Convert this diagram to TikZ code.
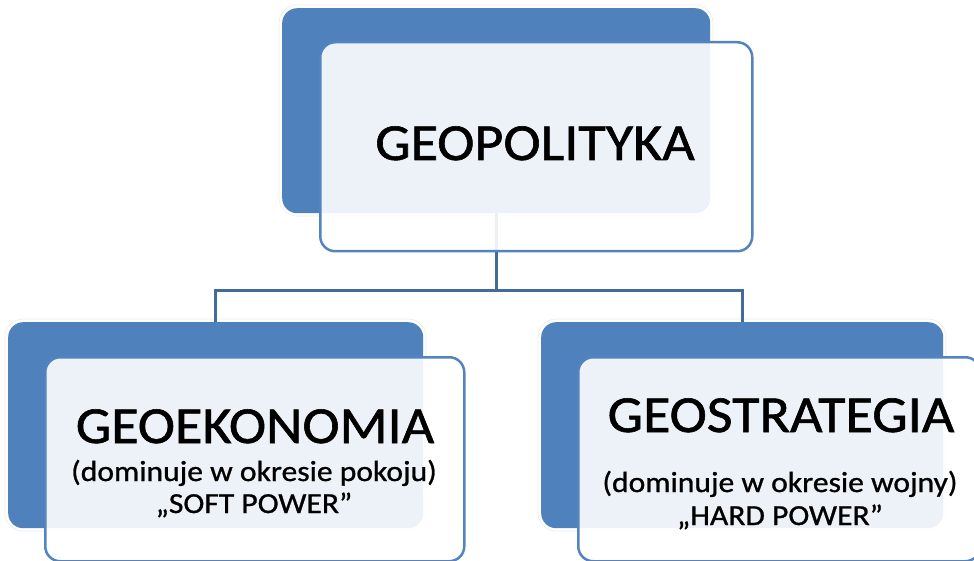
\documentclass[tikz,border=0pt]{standalone}
\usepackage{fontspec}
\setmainfont{Carlito}
\newfontfamily\bigfont{Carlito}[FakeStretch=1.08,FakeBold=1.1]
\newfontfamily\smallfont{Carlito}[FakeStretch=1.09,FakeBold=0.9]
\usetikzlibrary{calc}
\definecolor{backblue}{RGB}{79,129,189}
\definecolor{edgeblue}{RGB}{84,132,192}
\definecolor{connblue}{RGB}{65,106,157}
\begin{document}
\begin{tikzpicture}[x=1pt,y=-1pt,
  backbox/.style={rectangle,rounded corners=15pt,fill=backblue,draw=none,inner sep=0pt,anchor=north west},
  frontbox/.style={rectangle,rounded corners=15pt,fill=white,fill opacity=0.9,draw=edgeblue,line width=2.5pt,inner sep=0pt,anchor=north west},
  halo/.style={draw=black!8,line width=0.6pt,rounded corners=18pt},
  conn/.style={draw=connblue,line width=2.6pt},
  big/.style={font=\bigfont\fontsize{52}{60}\selectfont,anchor=base,inner sep=0pt},
  small/.style={font=\smallfont\fontsize{29}{32}\selectfont,anchor=base,inner sep=0pt}]
\useasboundingbox (0,0) rectangle (974,561);
\clip (0,0) rectangle (974,561);
% halos
\draw[halo] (279,5) rectangle (713,216);
\draw[halo] (5,319) rectangle (426,531);
\draw[halo] (538,319) rectangle (946,531);
% back boxes
\node[backbox,minimum width=428pt,minimum height=205pt] (tb) at (282,8) {};
\node[backbox,minimum width=415pt,minimum height=206pt] (lb) at (8,322) {};
\node[backbox,minimum width=402pt,minimum height=206pt] (rb) at (541,322) {};
% connectors
\coordinate (mid) at ($(tb.south)+(0,77)$);
\draw[conn] (tb.south) -- (mid) -| (lb.north);
\draw[conn] (mid) -| (rb.north);
% front boxes
\node[frontbox,minimum width=432pt,minimum height=209pt] (tf) at (319,41) {};
\node[frontbox,minimum width=419pt,minimum height=204pt] (lf) at (44,356) {};
\node[frontbox,minimum width=402pt,minimum height=204pt] (rf) at (577,356) {};
% texts
\node[big] (t1) at (535,160) {GEOPOLITYKA};
\node[big] (l1) at (255,443) {GEOEKONOMIA};
\node[small] (l2) at (254,481) {(dominuje w okresie pokoju)};
\node[small] (l3) at (254,513) {„SOFT POWER”};
\node[big] (r1) at (781,432) {GEOSTRATEGIA};
\node[small] (r2) at (780,492) {(dominuje w okresie wojny)};
\node[small] (r3) at (780,525) {„HARD POWER”};
\end{tikzpicture}
\end{document}
